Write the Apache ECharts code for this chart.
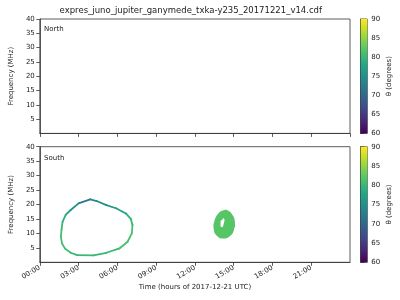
<!DOCTYPE html>
<html>
<head>
<meta charset="utf-8">
<script src="https://cdn.jsdelivr.net/npm/echarts@6/dist/echarts.min.js"></script>
<style>html,body{margin:0;padding:0;background:#fff}#c{width:400px;height:300px}</style>
</head>
<body>
<div id="c"></div>
<script>
// ---- data ----
var titleText = 'expres_juno_jupiter_ganymede_txka-y235_20171221_v14.cdf';
var panelNames = ['North', 'South'];
var xTickHours = [0, 3, 6, 9, 12, 15, 18, 21];
var freqTicks = [5, 10, 15, 20, 25, 30, 35, 40];
var thetaTicks = [60, 65, 70, 75, 80, 85, 90];
// South loop outline: [time (h), frequency (MHz), theta (deg)]
var loopTime  = [3.9, 3.0, 2.39, 2.0, 1.76, 1.68, 1.63, 1.71, 1.94, 2.39, 2.89, 4.15, 5.15, 6.16, 6.79, 7.12, 7.17, 7.04, 6.66, 5.9, 5.15, 4.4];
var loopFreq  = [21.8, 20.4, 18.1, 16.4, 14.0, 11.2, 8.9, 6.6, 4.8, 3.3, 2.5, 2.4, 3.3, 4.8, 7.1, 10.0, 12.9, 15.0, 16.9, 18.7, 19.8, 21.2];
var loopTheta = [72, 75, 77, 79, 80, 81, 81, 81, 81, 80, 80, 80, 80, 81, 81, 81, 80, 79, 77, 76, 75, 74];
// South blob near 14h
var blobTime  = [14.51, 14.91, 15.09, 15.02, 14.72, 14.21, 13.71, 13.46, 13.53, 13.83, 14.16];
var blobFreq  = [18.0, 16.4, 14.0, 11.2, 9.1, 8.2, 9.1, 11.4, 14.6, 17.0, 17.9];
var blobTheta = 82;
var holeTime  = [14.22, 14.3, 14.16, 13.98, 13.99];
var holeFreq  = [15.3, 14.6, 12.1, 12.4, 14.2];

// ---- style ----
var viridis = ['#440154','#482475','#414487','#355f8d','#2a788e','#21918c','#22a884','#44bf70','#7ad151','#bddf26','#fde725'];
var txt = '#222', axc = '#333', fs = 7, font = 'DejaVu Sans';

var loopData = loopTime.map(function (t, i) { return [t, loopFreq[i], loopTheta[i]]; });
var blobData = blobTime.map(function (t, i) { return [t, blobFreq[i], blobTheta]; });
var holeData = holeTime.map(function (t, i) { return [t, holeFreq[i]]; });

function hh(v) { var h = Math.round(v); return (h < 10 ? '0' : '') + h + ':00'; }

var L = 31.7, W = 318.3;
var grids = [
  {left: L, top: 19, width: W, height: 114.4},
  {left: L, top: 146.7, width: W, height: 115.6},
  {left: 360.7, top: 19, width: 6.6, height: 114.4},
  {left: 360.7, top: 146.7, width: 6.6, height: 115.6}
];
grids.forEach(function (g) { g.show = true; g.borderColor = axc; g.borderWidth = 0.8; g.backgroundColor = 'transparent'; });

function xAx(gi, labels) {
  return {
    type: 'value', gridIndex: gi, min: 0, max: 24, interval: 3,
    axisLine: {show: true, lineStyle: {color: axc, width: 0.8}},
    axisTick: {show: true, inside: false, length: 3.5, lineStyle: {color: axc, width: 0.8}},
    splitLine: {show: false},
    axisLabel: {show: labels, rotate: 30, fontSize: fs, color: txt, fontFamily: font, margin: 5,
      showMaxLabel: false, formatter: function (v) { return xTickHours.indexOf(v) >= 0 ? hh(v) : ''; }},
    name: labels ? 'Time (hours of 2017-12-21 UTC)' : '', nameLocation: 'middle', nameGap: 21,
    nameTextStyle: {fontSize: fs, color: txt, fontFamily: font}
  };
}
function yAx(gi) {
  return {
    type: 'value', gridIndex: gi, min: 0, max: 40, interval: 5,
    axisLine: {show: true, lineStyle: {color: axc, width: 0.8}},
    axisTick: {show: true, inside: false, length: 3.5, lineStyle: {color: axc, width: 0.8}},
    splitLine: {show: false},
    axisLabel: {fontSize: fs, color: txt, fontFamily: font, margin: 5, showMinLabel: false,
      formatter: function (v) { return freqTicks.indexOf(v) >= 0 ? String(v) : ''; }},
    name: 'Frequency (MHz)', nameLocation: 'middle', nameGap: 17, nameRotate: 90,
    nameTextStyle: {fontSize: fs, color: txt, fontFamily: font}
  };
}
function cbX(gi) { return {type: 'value', gridIndex: gi, min: 0, max: 1, show: false}; }
function cbY(gi) {
  return {
    type: 'value', gridIndex: gi, min: 60, max: 90, interval: 5, position: 'right',
    axisLine: {show: true, lineStyle: {color: axc, width: 0.8}},
    axisTick: {show: true, inside: false, length: 3.5, lineStyle: {color: axc, width: 0.8}},
    splitLine: {show: false},
    axisLabel: {fontSize: fs, color: txt, fontFamily: font, margin: 4,
      formatter: function (v) { return thetaTicks.indexOf(v) >= 0 ? String(v) : ''; }},
    name: '\u03b8 (degrees)', nameLocation: 'middle', nameGap: 18, nameRotate: 90,
    nameTextStyle: {fontSize: fs, color: txt, fontFamily: font}
  };
}

function colorbarSeries(gi) {
  return {
    type: 'custom', xAxisIndex: gi, yAxisIndex: gi, silent: true,
    data: [[0, thetaTicks[0], thetaTicks[thetaTicks.length - 1]]],
    renderItem: function (params, api) {
      var p0 = api.coord([0, api.value(2)]);
      var p1 = api.coord([1, api.value(1)]);
      var stops = viridis.map(function (c, i) { return {offset: i / (viridis.length - 1), color: c}; });
      return {type: 'rect', shape: {x: p0[0], y: p0[1], width: p1[0] - p0[0], height: p1[1] - p0[1]},
        style: {fill: new echarts.graphic.LinearGradient(0, 1, 0, 0, stops)}};
    }
  };
}

var option = {
  animation: false,
  backgroundColor: '#fff',
  title: [
    {text: titleText, left: 190.8, top: 6, padding: 0, textAlign: 'center',
      textStyle: {fontSize: 8.5, fontWeight: 'normal', color: txt, fontFamily: font}},
    {text: panelNames[0], left: 44, top: 26, padding: 0, textStyle: {fontSize: fs, fontWeight: 'normal', color: txt, fontFamily: font}},
    {text: panelNames[1], left: 44, top: 154.5, padding: 0, textStyle: {fontSize: fs, fontWeight: 'normal', color: txt, fontFamily: font}}
  ],
  grid: grids,
  xAxis: [xAx(0, false), xAx(1, true), cbX(2), cbX(3)],
  yAxis: [yAx(0), yAx(1), cbY(2), cbY(3)],
  visualMap: [{
    type: 'continuous', show: false, dimension: 2, min: 60, max: 90,
    seriesIndex: [0, 1], inRange: {color: viridis}
  }],
  series: [
    {
      type: 'custom', xAxisIndex: 1, yAxisIndex: 1, silent: true,
      data: loopData,
      renderItem: function (params, api) {
        var i = params.dataIndex, n = loopData.length, j = (i + 1) % n;
        var p0 = api.coord([api.value(0), api.value(1)]);
        var p1 = api.coord([loopData[j][0], loopData[j][1]]);
        return {type: 'line', shape: {x1: p0[0], y1: p0[1], x2: p1[0], y2: p1[1]},
          style: {stroke: api.visual('color'), lineWidth: 1.8, lineCap: 'round'}};
      }
    },
    {
      type: 'custom', xAxisIndex: 1, yAxisIndex: 1, silent: true,
      data: blobData,
      renderItem: function (params, api) {
        if (params.dataIndex !== 0) return null;
        var pts = blobData.map(function (d) { return api.coord([d[0], d[1]]); });
        return {type: 'polygon', shape: {points: pts, smooth: 0.5},
          style: {fill: api.visual('color'), stroke: null}};
      }
    },
    {
      type: 'custom', xAxisIndex: 1, yAxisIndex: 1, silent: true,
      data: holeData, z: 5,
      renderItem: function (params, api) {
        if (params.dataIndex !== 0) return null;
        var pts = holeData.map(function (d) { return api.coord([d[0], d[1]]); });
        return {type: 'polygon', shape: {points: pts}, style: {fill: '#fff', stroke: null}};
      }
    },
    colorbarSeries(2),
    colorbarSeries(3)
  ]
};
echarts.init(document.getElementById('c'), null, {renderer: 'canvas'}).setOption(option);
</script>
</body>
</html>
